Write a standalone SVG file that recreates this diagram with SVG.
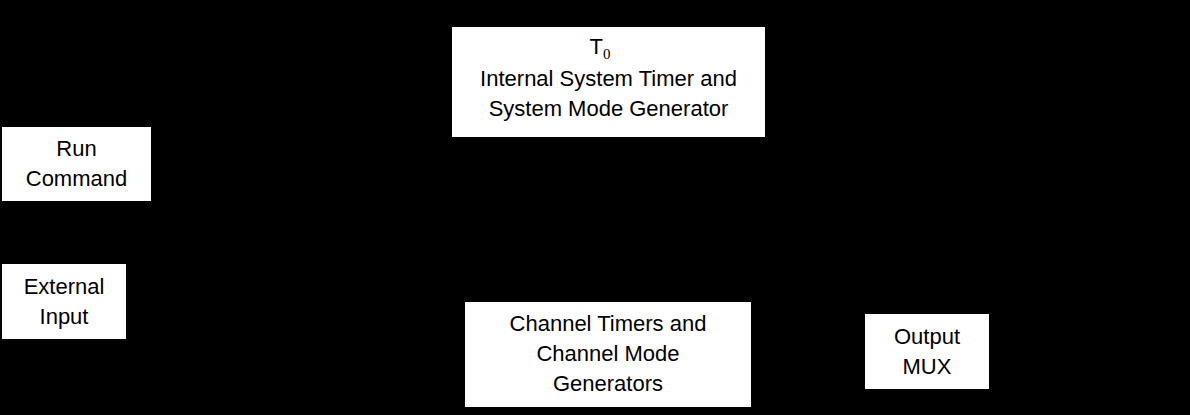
<svg xmlns="http://www.w3.org/2000/svg" width="1190" height="415" viewBox="0 0 1190 415">
<style>
.box{fill:#fff;stroke:none}
.t{font-family:"Liberation Sans",Arial,sans-serif;font-size:22px;fill:#000;text-anchor:middle}
.sub{font-family:"Liberation Serif",serif;font-size:15px}
</style>
<rect x="0" y="0" width="1190" height="415" fill="#000"/>
<g id="connectors"></g>
<g id="run-command">
<rect class="box" x="2" y="127" width="149" height="74"/>
<text class="t" x="76.5" y="156">Run</text>
<text class="t" x="76.5" y="186">Command</text>
</g>
<g id="external-input">
<rect class="box" x="2" y="264" width="124" height="75"/>
<text class="t" x="64" y="294">External</text>
<text class="t" x="64" y="324">Input</text>
</g>
<g id="system-timer">
<rect class="box" x="452" y="27" width="313" height="110"/>
<text class="t" x="600" y="54">T<tspan class="sub" dy="5">0</tspan></text>
<text class="t" x="608.5" y="86">Internal System Timer and</text>
<text class="t" x="608.5" y="116">System Mode Generator</text>
</g>
<g id="channel-timers">
<rect class="box" x="465" y="302" width="286" height="105"/>
<text class="t" x="608" y="331">Channel Timers and</text>
<text class="t" x="608" y="361">Channel Mode</text>
<text class="t" x="608" y="391">Generators</text>
</g>
<g id="output-mux">
<rect class="box" x="865" y="314" width="124" height="75"/>
<text class="t" x="927" y="344">Output</text>
<text class="t" x="927" y="374">MUX</text>
</g>
</svg>
